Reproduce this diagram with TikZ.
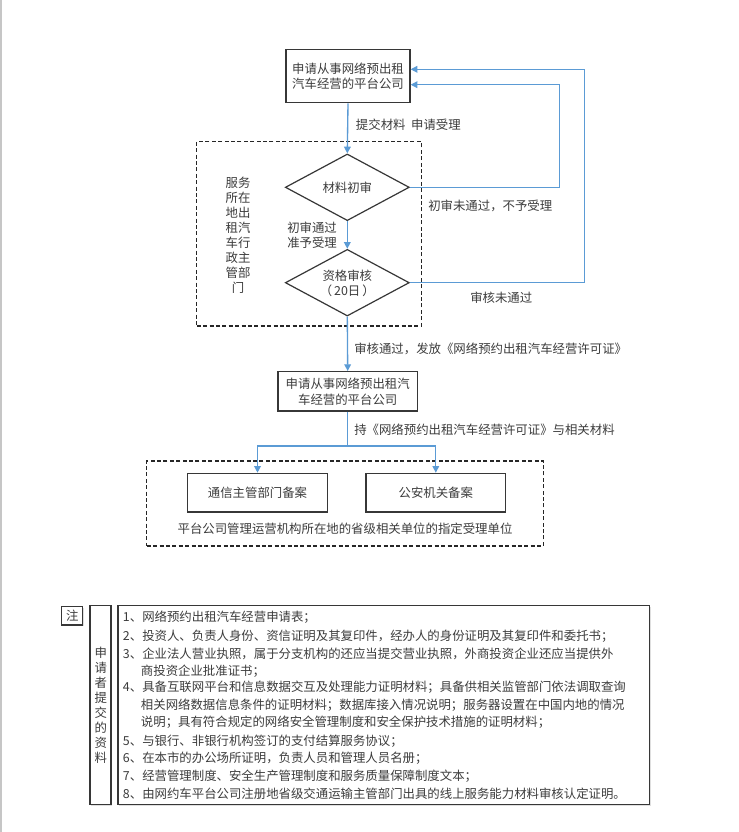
\documentclass[tikz,border=0pt]{standalone}
\usepackage{fontspec}
\setmainfont{Noto Sans CJK SC}
\usetikzlibrary{shapes.geometric,arrows.meta,shadows,calc}
\definecolor{lineblue}{RGB}{91,155,213}
\definecolor{txt}{RGB}{60,60,60}
\definecolor{frame}{RGB}{55,55,55}
\begin{document}
\begin{tikzpicture}[x=0.75pt,y=-0.75pt,
  font=\fontsize{9.3pt}{11.25pt}\selectfont, text=txt,
  box/.style={draw=frame, line width=1pt, align=center, inner sep=0pt},
  dia/.style={draw=frame, line width=0.9pt, diamond, inner sep=0pt, minimum width=93pt, minimum height=50pt},
  flow/.style={draw=lineblue, line width=1pt, -{Triangle[length=5pt,width=5pt]}},
  plainflow/.style={draw=lineblue, line width=1pt},
  dbox/.style={draw=black!85, dash pattern=on 3pt off 1.8pt, line width=0.9pt, inner sep=0pt},
  lbl/.style={anchor=west, inner sep=0pt, align=left},
  shad/.style={drop shadow={shadow xshift=1pt,shadow yshift=-1pt,opacity=0.25,fill=gray}},
  ln/.style={anchor=west, inner sep=0pt, font=\fontsize{9.3pt}{11.25pt}\selectfont}
]
\useasboundingbox (0,0) rectangle (739,832);
\fill[white] (0,0) rectangle (739,832);
\draw[gray!45, line width=1.2pt] (0.8,0) -- (0.8,832);

% dashed groups
\node[dbox, minimum width=168.45pt, minimum height=138.2pt] (g1) at (309,233.85) {};
\node[dbox, minimum width=297.45pt, minimum height=63.75pt] (g2) at (345,503.5) {};

% nodes
\node[box, minimum width=93pt, minimum height=40pt] (top) at (348,76) {申请从事网络预出租\\汽车经营的平台公司};
\node[dia] (d1) at (347.3,187.3) {};
\node at (d1) {材料初审};
\node[dia] (d2) at (347.3,282.7) {};
\node[align=center, inner sep=0pt] at (347.3,283) {资格审核\\（\,20日\,）};
\node[box, minimum width=104.5pt, minimum height=29.5pt, font=\fontsize{9.3pt}{12pt}\selectfont] (b2) at (347.7,391.3) {申请从事网络预出租汽\\车经营的平台公司};
\node[box, minimum width=104.7pt, minimum height=29pt] (bA) at (257.5,492.7) {通信主管部门备案};
\node[box, minimum width=104.7pt, minimum height=29pt] (bB) at (435.8,492.7) {公安机关备案};

\node[align=center, inner sep=0pt] (dept) at (238,235.2) {服务\\所在\\地出\\租汽\\车行\\政主\\管部\\门};
\node[inner sep=0pt] (unit) at (345,529) {平台公司管理运营机构所在地的省级相关单位的指定受理单位};

% connectors
\draw[flow] (top.south) -- (d1.north);
\draw[flow] (d1.south) -- (d2.north);
\draw[flow] (d2.south) -- (b2.north);
\coordinate (j) at (347.7,446);
\draw[plainflow] (b2.south) -- (j);
\draw[flow] (j) -| (bA.north);
\draw[flow] (j) -| (bB.north);
\coordinate (r1) at (559.7,187.3);
\coordinate (r2) at (584.3,282.7);
\draw[flow] (d1.east) -- (r1) |- ($(top.east)+(0,8.7)$);
\draw[flow] (d2.east) -- (r2) |- ($(top.east)+(0,-6.7)$);

% connector labels
\node[lbl] (l1) at (355.7,125) {提交材料\ \ 申请受理};
\node[lbl] (l2) at (287,235) {初审通过\\准予受理};
\node[lbl] (l3) at (428,205.7) {初审未通过，不予受理};
\node[lbl] (l4) at (470,297.7) {审核未通过};
\node[lbl] (l5) at (354,349) {审核通过，发放《网络预约出租汽车经营许可证》};
\node[lbl] (l6) at (354,430) {持《网络预约出租汽车经营许可证》与相关材料};

% notes
\node[box, minimum width=15.75pt, minimum height=13.7pt, shad, fill=white] (zhu) at (72.2,615.8) {注};
\node[box, minimum width=15.75pt, minimum height=149pt, shad, fill=white] (col) at (100.5,705) {};
\node[align=center, inner sep=0pt, font=\fontsize{9.3pt}{11.3pt}\selectfont] at (100.7,705.3) {申\\请\\者\\提\\交\\的\\资\\料};
\node[box, minimum width=398.5pt, minimum height=149pt, shad, fill=white] (list) at (383.65,705) {};

\node[ln] at (122.7,617.7) {1、网络预约出租汽车经营申请表；};
\node[ln] at (122.7,636.7) {2、投资人、负责人身份、资信证明及其复印件，经办人的身份证明及其复印件和委托书；};
\node[ln] at (122.7,654) {3、企业法人营业执照，属于分支机构的还应当提交营业执照，外商投资企业还应当提供外};
\node[ln] at (140.7,671.7) {商投资企业批准证书；};
\node[ln] at (122.7,687.3) {4、具备互联网平台和信息数据交互及处理能力证明材料；具备供相关监管部门依法调取查询};
\node[ln] at (140.7,705) {相关网络数据信息条件的证明材料；数据库接入情况说明；服务器设置在中国内地的情况};
\node[ln] at (140.7,722.7) {说明；具有符合规定的网络安全管理制度和安全保护技术措施的证明材料；};
\node[ln] at (122.7,741.7) {5、与银行、非银行机构签订的支付结算服务协议；};
\node[ln] at (122.7,758.3) {6、在本市的办公场所证明，负责人员和管理人员名册；};
\node[ln] at (122.7,776) {7、经营管理制度、安全生产管理制度和服务质量保障制度文本；};
\node[ln] at (122.7,793.3) {8、由网约车平台公司注册地省级交通运输主管部门出具的线上服务能力材料审核认定证明。};
\end{tikzpicture}
\end{document}
